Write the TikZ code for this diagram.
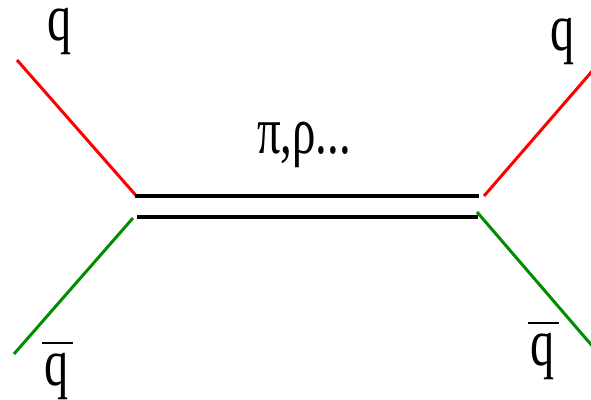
\documentclass[tikz,border=0pt]{standalone}
\usepackage{fontspec}
\setmainfont{Liberation Serif}
\usepackage{graphicx}
\definecolor{qgreen}{RGB}{0,140,0}
\newcommand{\qglyph}{\scalebox{0.72}[1]{q}}
\newcommand{\barq}{\vbox{\hrule height 1.6pt width 31pt\kern 9pt\hbox to 31pt{\hss\qglyph\hss}}}
\begin{document}
\begin{tikzpicture}[x=1pt,y=-1pt]
\tikzset{
  quark/.style={line width=3pt,red},
  aquark/.style={line width=3pt,qgreen},
  meson/.style={line width=4pt,black},
  lbl/.style={anchor=base,inner sep=0pt,font=\fontsize{67}{75}\selectfont}
}
\useasboundingbox (0,0) rectangle (591,399);
% left vertex
\coordinate (qin) at (17,60);
\coordinate (qinv) at (136,195.5);
\coordinate (aqin) at (14,354);
\coordinate (aqinv) at (133,218);
% meson lines
\coordinate (tl) at (135,195.5);
\coordinate (tr) at (479,195.5);
\coordinate (bl) at (137,216.5);
\coordinate (br) at (478,216.5);
% right vertex
\coordinate (qoutv) at (484,196);
\coordinate (qout) at (594,69);
\coordinate (aqoutv) at (477,212);
\coordinate (aqout) at (594,348);
\draw[quark] (qin) -- (qinv);
\draw[aquark] (aqin) -- (aqinv);
\draw[meson] (tl) -- (tr);
\draw[meson] (bl) -- (br);
\draw[quark] (qoutv) -- (qout);
\draw[aquark] (aqoutv) -- (aqout);
% labels
\node[lbl] (lq) at (60,40) {\qglyph};
\node[lbl] (rq) at (563,50) {\qglyph};
\node[lbl] (laq) at (57,385) {\barq};
\node[lbl] (raq) at (543,365) {\barq};
\node[lbl] (mes) at (304,153) {\scalebox{0.7}[1]{π,ρ...}};
\end{tikzpicture}
\end{document}
